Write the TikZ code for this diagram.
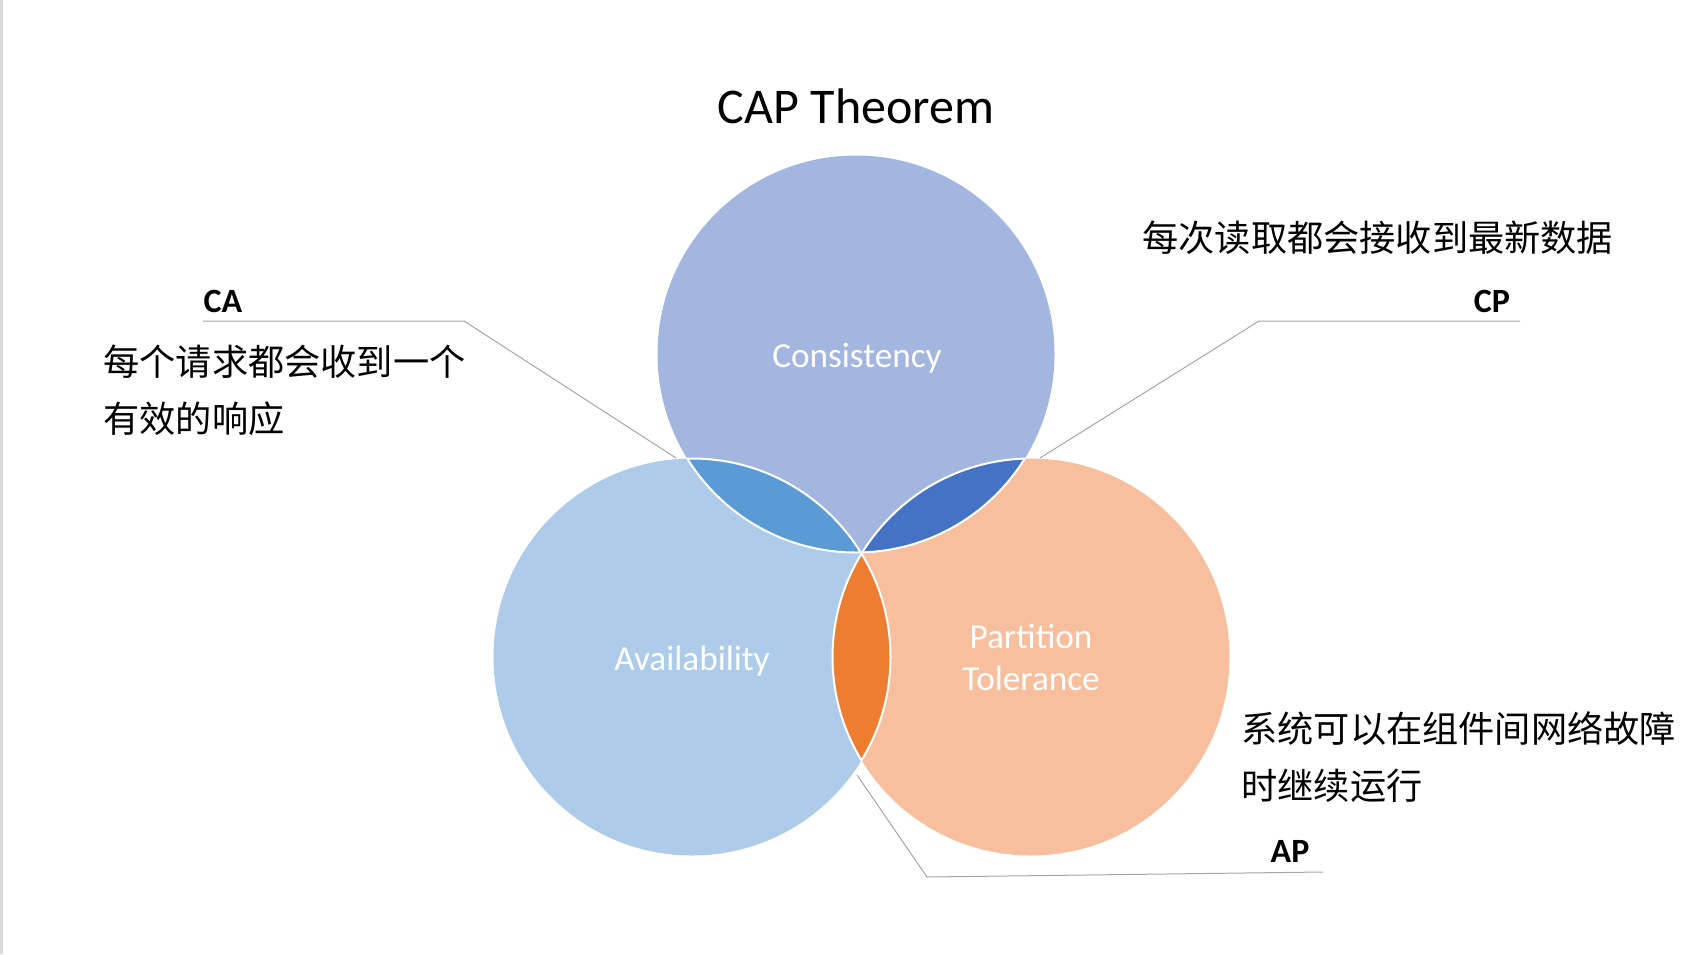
\documentclass[tikz,border=0pt]{standalone}
\usepackage{fontspec}
\setmainfont{Carlito}
\newfontfamily\cjk{Noto Sans CJK SC}
\usepackage{xcolor}
\usepackage{tikz}
\usetikzlibrary{positioning}

\definecolor{consFill}{HTML}{A3B6E0}
\definecolor{availFill}{HTML}{AECCEA}
\definecolor{partFill}{HTML}{F7BF9D}
\definecolor{caFill}{HTML}{5B9BD5}
\definecolor{cpFill}{HTML}{4472C4}
\definecolor{apFill}{HTML}{ED7D31}
\definecolor{leaderGray}{HTML}{A6A6A6}
\definecolor{edgeGray}{HTML}{D9D9D9}

\begin{document}
\begin{tikzpicture}[x=0.5pt, y=-0.5pt,
    every node/.style={inner sep=0pt},
    setlabel/.style={text=white, anchor=base, font=\fontsize{17.6}{21}\selectfont},
    pairlabel/.style={anchor=base, font=\bfseries\fontsize{17}{20}\selectfont},
    note/.style={anchor=base west, font=\cjk\fontsize{18.1}{22}\selectfont},
    leader/.style={draw=leaderGray, line width=0.5pt},
    lensedge/.style={draw=white, line width=1pt}]

    \useasboundingbox (0,0) rectangle (1706,954);
    \fill[white] (0,0) rectangle (1706,954);
    \fill[edgeGray] (0,0) rectangle (3,954);

    % Title
    \node[anchor=base, font=\fontsize{25}{30}\selectfont] (title) at (856,123) {CAP Theorem};

    % Centres of the three sets
    \coordinate (cC) at (856,354);
    \coordinate (cA) at (692,657);
    \coordinate (cP) at (1031,657);
    \def\rad{198.5}

    % The three sets
    \fill[availFill] (cA) circle [radius=\rad];
    \fill[partFill] (cP) circle [radius=\rad];
    \fill[consFill] (cC) circle [radius=\rad];

    % Pairwise overlaps
    \begin{scope}
        \clip (cC) circle [radius=\rad];
        \fill[caFill] (cA) circle [radius=\rad];
        \fill[cpFill] (cP) circle [radius=\rad];
    \end{scope}
    \begin{scope}
        \clip (cA) circle [radius=\rad];
        \fill[apFill] (cP) circle [radius=\rad];
    \end{scope}

    % White rims of the overlaps
    \begin{scope}
        \clip (cC) circle [radius=\rad];
        \draw[lensedge] (cA) circle [radius=\rad];
        \draw[lensedge] (cP) circle [radius=\rad];
    \end{scope}
    \begin{scope}
        \clip (cA) circle [radius=\rad];
        \draw[lensedge] (cC) circle [radius=\rad];
        \draw[lensedge] (cP) circle [radius=\rad];
    \end{scope}
    \begin{scope}
        \clip (cP) circle [radius=\rad];
        \draw[lensedge] (cC) circle [radius=\rad];
        \draw[lensedge] (cA) circle [radius=\rad];
    \end{scope}

    % Set names
    \node[setlabel] (consLabel) at (857,367) {Consistency};
    \node[setlabel] (availLabel) at (692,670) {Availability};
    \node[setlabel] (partLabel) at (1031,648) {Partition};
    \node[setlabel] (tolLabel) at (1031,690) {Tolerance};

    % CA leader
    \coordinate (caTip) at (676,458);
    \coordinate (caBend) at (464,321);
    \coordinate (caEnd) at (203,321);
    \draw[leader] (caTip) -- (caBend) -- (caEnd);
    \node[pairlabel] (caLabel) at (223,312) {CA};

    % CP leader
    \coordinate (cpTip) at (1040,458);
    \coordinate (cpBend) at (1259,321);
    \coordinate (cpEnd) at (1520,321);
    \draw[leader] (cpTip) -- (cpBend) -- (cpEnd);
    \node[pairlabel] (cpLabel) at (1492,312) {CP};

    % AP leader
    \coordinate (apTip) at (857,775);
    \coordinate (apBend) at (927,877);
    \coordinate (apEnd) at (1323,872);
    \draw[leader] (apTip) -- (apBend) -- (apEnd);
    \node[pairlabel] (apLabel) at (1290,862) {AP};

    % Explanations
    \node[note] (cNote) at (1142,251) {每次读取都会接收到最新数据};
    \node[note] (aNote1) at (103,375) {每个请求都会收到一个};
    \node[note] (aNote2) at (103,432) {有效的响应};
    \node[note] (pNote1) at (1241,742) {系统可以在组件间网络故障};
    \node[note] (pNote2) at (1241,799) {时继续运行};
\end{tikzpicture}
\end{document}
